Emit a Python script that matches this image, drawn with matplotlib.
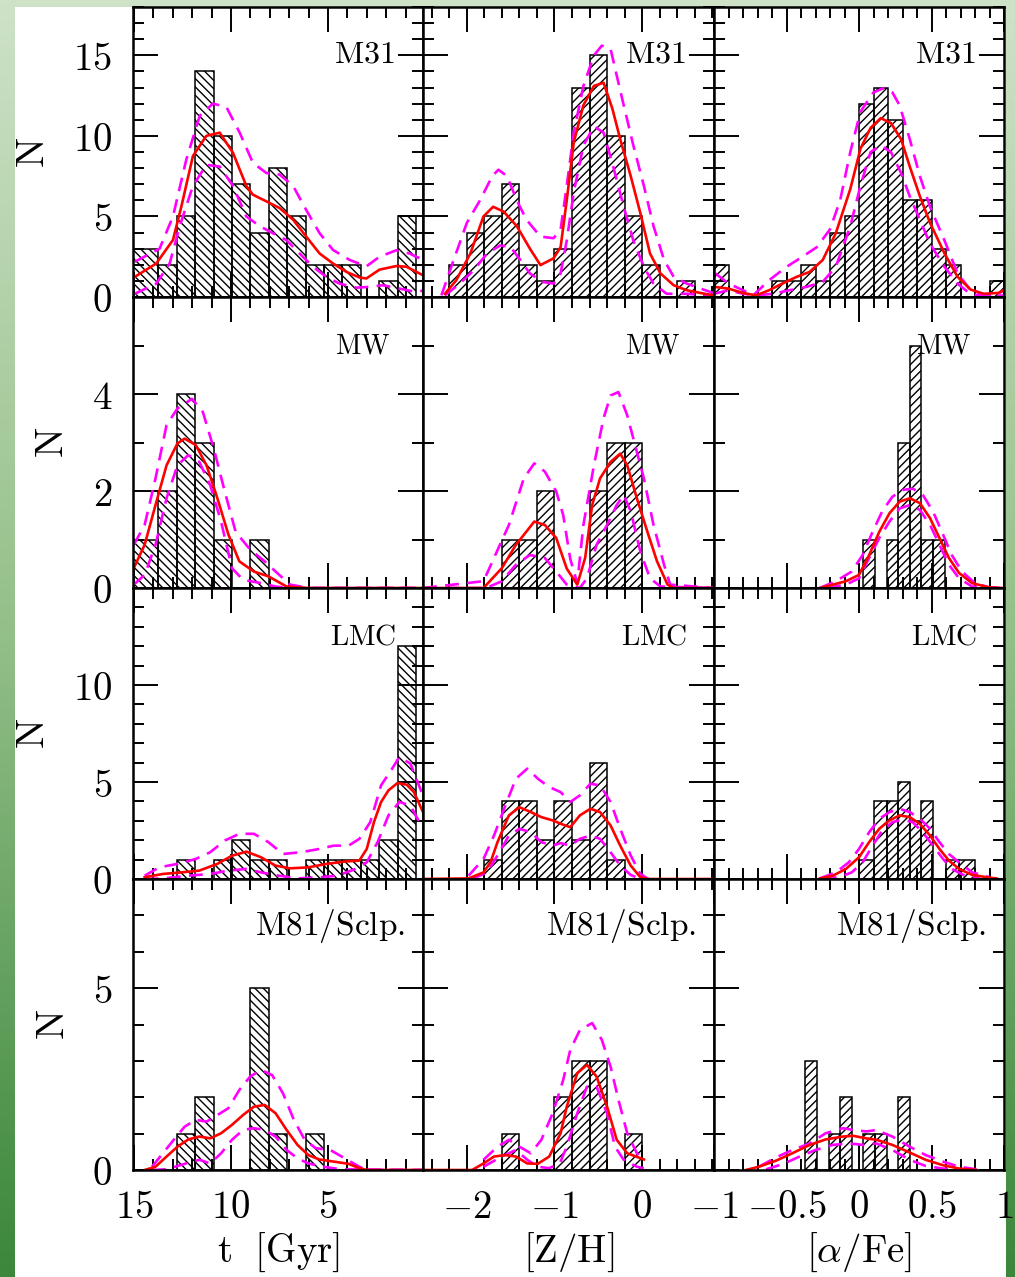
import numpy as np
import matplotlib
matplotlib.use("Agg")
import matplotlib.pyplot as plt
from matplotlib.ticker import MultipleLocator, FuncFormatter
from matplotlib.colors import LinearSegmentedColormap
from matplotlib.patches import Rectangle

plt.rcParams["mathtext.fontset"] = "cm"
plt.rcParams["hatch.linewidth"] = 1.0
plt.rcParams["lines.scale_dashes"] = False

# ---------------- histogram data ----------------
age_edges = [15.2, 13.75, 12.8, 11.85, 10.9, 9.95, 9.0, 8.05, 7.1, 6.15,
             5.2, 4.25, 3.3, 2.35, 1.4, 0.45, -0.5]
m31_age_n = [3, 2, 5, 14, 10, 7, 4, 8, 5, 2, 2, 2, 0, 1, 5, 0]
mw_age_n = [1, 2, 4, 3, 1, 0, 1, 0, 0, 0, 0, 0, 0, 0, 0, 0]
lmc_age_n = [0, 0, 1, 0, 1, 2, 1, 1, 0, 1, 1, 1, 1, 2, 12, 0]
m81_age_n = [0, 0, 1, 2, 0, 0, 5, 1, 0, 1, 0, 0, 0, 0, 0, 0]

zh_edges = [-2.2, -2.0, -1.8, -1.6, -1.4, -1.2, -1.0, -0.8, -0.6, -0.4,
            -0.2, 0.0, 0.2, 0.4, 0.6]
m31_zh_n = [2, 4, 5, 7, 2, 1, 3, 13, 15, 10, 5, 2, 0, 1]
mw_zh_n = [0, 0, 0, 1, 1, 2, 0, 0, 2, 3, 3, 0, 0, 0]
lmc_zh_n = [0, 0, 1, 4, 4, 2, 4, 2, 6, 1, 0, 0, 0, 0]
m81_zh_n = [0, 0, 0, 1, 0, 0, 2, 3, 3, 0, 1, 0, 0, 0]

m31_afe_edges = [-1.0, -0.9, -0.8, -0.7, -0.6, -0.5, -0.4, -0.3, -0.2, -0.1,
                 0.0, 0.1, 0.2, 0.3, 0.4, 0.5, 0.6, 0.7, 0.8, 0.9, 1.0]
m31_afe_n = [2, 0, 0, 0, 1, 1, 2, 1, 4, 5, 12, 13, 11, 6, 6, 3, 2, 0, 0, 1]
afe_edges = [-0.37, -0.29, -0.21, -0.13, -0.05, 0.03, 0.11, 0.19, 0.27,
             0.35, 0.43, 0.51, 0.59, 0.67, 0.75]
mw_afe_n = [0, 0, 0, 0, 0, 1, 0, 1, 3, 5, 1, 1, 0, 0]
m81_afe_n = [3, 0, 1, 2, 0, 1, 1, 0, 2, 0, 0, 0, 0, 0]
lmc_afe_edges = [0.0, 0.105, 0.19, 0.27, 0.35, 0.43, 0.51, 0.6, 0.69, 0.8]
lmc_afe_n = [1, 4, 4, 5, 3, 4, 0, 1, 1]

# ---------------- fitted densities (red) and bounds (magenta) ----------------
# M31, age
m31_age_fit_x = [14.96, 13.85, 12.99, 12.56, 11.96, 11.27, 10.58, 9.9, 9.21, 8.87, 8.18, 7.49,
                 6.8, 6.12, 5.43, 4.74, 4.05, 3.37, 3.02, 2.34, 1.48, 0.96, 0.1]
m31_age_fit_y = [1.25, 2.08, 3.54, 5.6, 8.75, 10.0, 10.2, 8.96, 6.9, 6.35, 5.94, 5.52,
                 4.8, 3.75, 2.7, 2.08, 1.56, 1.21, 1.15, 1.7, 1.92, 1.88, 1.35]
m31_age_hi_x = [14.96, 13.68, 12.99, 12.3, 11.61, 10.93, 10.24, 9.55, 8.87, 8.18, 7.49, 6.8,
                6.12, 5.43, 4.74, 3.88, 3.02, 2.34, 1.48, 0.79, 0.1]
m31_age_hi_y = [2.19, 3.0, 5.0, 8.54, 11.25, 12.0, 11.8, 10.2, 8.33, 7.7, 7.6, 6.9,
                5.4, 3.96, 2.92, 2.3, 1.9, 2.5, 2.9, 2.7, 2.3]
m31_age_lo_x = [14.96, 13.85, 13.16, 12.64, 11.96, 11.27, 10.58, 9.9, 9.21, 8.52, 7.84, 7.15,
                6.46, 5.77, 5.08, 4.4, 3.54, 2.85, 2.17, 1.31, 0.45, 0.1]
m31_age_lo_y = [0.2, 0.83, 2.08, 4.4, 6.9, 8.2, 8.1, 6.9, 5.0, 4.4, 3.96, 3.54,
                2.7, 1.87, 1.25, 0.83, 0.58, 0.63, 0.73, 0.52, 0.31, 0.4]

# M31, [Z/H]
m31_zh_fit_x = [-2.25, -2.12, -1.96, -1.81, -1.7, -1.58, -1.43, -1.28, -1.16, -1.01, -0.93, -0.86,
                -0.78, -0.67, -0.55, -0.44, -0.34, -0.25, -0.13, -0.02, 0.09, 0.21, 0.36, 0.51,
                0.74, 0.84]
m31_zh_fit_y = [0.2, 1.04, 2.7, 5.0, 5.6, 5.3, 4.4, 3.0, 1.98, 2.4, 3.1, 6.0,
                9.6, 11.9, 13.1, 13.3, 11.7, 9.8, 7.5, 5.2, 2.7, 1.46, 0.73, 0.42,
                0.17, 0.1]
m31_zh_hi_x = [-2.29, -2.15, -2.0, -1.85, -1.71, -1.64, -1.54, -1.43, -1.32, -1.16, -1.01, -0.93,
               -0.86, -0.78, -0.67, -0.55, -0.46, -0.36, -0.29, -0.21, -0.1, 0.02, 0.13, 0.25,
               0.36, 0.51, 0.7, 0.84]
m31_zh_hi_y = [0.1, 2.3, 4.6, 6.0, 7.5, 7.9, 7.5, 6.0, 4.8, 3.75, 3.65, 4.2,
               6.9, 10.2, 13.1, 15.0, 15.6, 15.4, 13.75, 11.9, 9.4, 6.9, 4.4, 2.3,
               1.25, 0.83, 0.46, 0.2]
m31_zh_lo_x = [-2.25, -2.08, -1.92, -1.77, -1.62, -1.5, -1.39, -1.28, -1.14, -1.01, -0.93, -0.86,
               -0.78, -0.67, -0.55, -0.44, -0.33, -0.21, -0.1, 0.02, 0.13, 0.28, 0.51, 0.84]
m31_zh_lo_y = [0.1, 0.83, 1.67, 2.7, 3.2, 3.1, 2.3, 1.46, 0.94, 0.83, 1.46, 3.5,
               6.5, 9.4, 10.6, 10.2, 8.1, 5.6, 3.5, 1.87, 0.83, 0.2, 0.2, 0.05]

# M31, [alpha/Fe]
m31_afe_fit_x = [-1.0, -0.9, -0.8, -0.71, -0.62, -0.53, -0.43, -0.34, -0.25, -0.16, -0.06, 0.01,
                 0.08, 0.15, 0.22, 0.29, 0.35, 0.42, 0.49, 0.59, 0.68, 0.77, 0.86, 0.96, 1.0]
m31_afe_fit_y = [0.63, 0.52, 0.25, 0.1, 0.42, 0.83, 1.25, 1.56, 2.3, 3.96, 6.7, 9.2,
                 10.5, 11.1, 10.8, 9.8, 8.1, 6.25, 4.6, 2.7, 1.25, 0.46, 0.2, 0.25, 0.42]
m31_afe_hi_x = [-0.99, -0.9, -0.8, -0.73, -0.62, -0.5, -0.39, -0.29, -0.2, -0.13, -0.06, 0.01,
                0.1, 0.17, 0.23, 0.28, 0.35, 0.42, 0.49, 0.59, 0.68, 0.77, 0.86, 0.96, 1.0]
m31_afe_hi_y = [1.46, 0.83, 0.42, 0.1, 1.04, 1.87, 2.5, 3.1, 4.2, 6.0, 9.0, 11.5,
                12.7, 12.96, 12.7, 11.9, 9.8, 7.5, 5.6, 3.5, 1.46, 0.42, 0.1, 0.2, 0.42]
m31_afe_lo_x = [-1.0, -0.9, -0.8, -0.71, -0.59, -0.48, -0.36, -0.25, -0.16, -0.06, 0.01, 0.08,
                0.15, 0.22, 0.29, 0.35, 0.42, 0.49, 0.59, 0.68, 0.77, 0.91, 1.0]
m31_afe_lo_y = [0.2, 0.42, 0.2, 0.1, 0.2, 0.42, 0.63, 0.94, 1.87, 4.4, 6.9, 9.0,
                9.4, 9.0, 7.7, 6.25, 4.8, 3.3, 1.87, 0.83, 0.17, 0.05, 0.1]

# MW, age
mw_age_fit_x = [15.01, 14.45, 13.89, 13.32, 12.76, 12.39, 11.82, 11.26, 10.7, 10.13, 9.57, 8.82,
                8.07, 7.13, 6.0, 0.1]
mw_age_fit_y = [0.41, 0.89, 1.71, 2.53, 2.98, 3.08, 2.95, 2.53, 1.85, 1.1, 0.55, 0.34,
                0.24, 0.03, 0.0, 0.0]
mw_age_hi_x = [15.01, 14.45, 13.89, 13.32, 12.76, 12.01, 11.45, 10.89, 10.32, 9.76, 9.01, 8.26,
               7.7, 6.95, 6.0, 0.1]
mw_age_hi_y = [0.89, 1.3, 2.26, 3.36, 3.7, 3.9, 3.63, 2.88, 1.99, 1.16, 0.79, 0.55,
               0.34, 0.07, 0.0, 0.0]
mw_age_lo_x = [15.01, 14.45, 13.89, 13.32, 12.76, 12.2, 11.63, 11.07, 10.51, 9.95, 9.38, 8.45,
               7.7, 6.95, 0.1]
mw_age_lo_y = [0.07, 0.27, 0.89, 1.85, 2.53, 2.74, 2.6, 2.12, 1.37, 0.41, 0.17, 0.1,
               0.03, 0.0, 0.0]

# MW, [Z/H]
mw_zh_fit_x = [-2.5, -1.81, -1.6, -1.44, -1.23, -1.11, -0.98, -0.86, -0.74, -0.65, -0.57, -0.48,
               -0.36, -0.25, -0.17, -0.06, 0.06, 0.17, 0.29, 0.36, 0.82]
mw_zh_fit_y = [0.0, 0.0, 0.41, 0.89, 1.37, 1.3, 1.03, 0.4, 0.07, 0.62, 1.71, 2.26,
               2.6, 2.77, 2.53, 1.85, 1.16, 0.55, 0.07, 0.0, 0.0]
mw_zh_hi_x = [-2.5, -1.81, -1.69, -1.52, -1.35, -1.23, -1.11, -0.98, -0.9, -0.82, -0.74, -0.67,
              -0.55, -0.44, -0.36, -0.27, -0.17, -0.1, 0.02, 0.13, 0.25, 0.32, 0.82]
mw_zh_hi_y = [0.0, 0.14, 0.62, 1.3, 2.26, 2.57, 2.4, 1.99, 1.5, 0.6, 0.1, 1.3,
              2.53, 3.5, 3.97, 4.04, 3.56, 3.08, 2.26, 1.3, 0.48, 0.07, 0.0]
mw_zh_lo_x = [-2.5, -1.78, -1.6, -1.44, -1.28, -1.11, -0.98, -0.86, -0.71, -0.63, -0.52, -0.4,
              -0.29, -0.21, -0.13, -0.02, 0.09, 0.21, 0.82]
mw_zh_lo_y = [0.0, 0.0, 0.14, 0.48, 0.68, 0.62, 0.34, 0.07, 0.0, 0.2, 0.89, 1.3,
              1.71, 1.92, 1.58, 0.75, 0.2, 0.03, 0.0]

# MW, [alpha/Fe]
mw_afe_fit_x = [-0.27, -0.18, -0.09, 0.0, 0.07, 0.14, 0.21, 0.28, 0.35, 0.42, 0.49, 0.555,
                0.62, 0.69, 0.78, 0.9, 1.0]
mw_afe_fit_y = [0.0, 0.07, 0.14, 0.27, 0.68, 1.16, 1.54, 1.78, 1.85, 1.75, 1.44, 1.03,
                0.62, 0.31, 0.1, 0.01, 0.0]
mw_afe_hi_x = [-0.27, -0.16, -0.05, 0.025, 0.094, 0.16, 0.23, 0.3, 0.37, 0.44, 0.51, 0.58,
               0.64, 0.71, 0.8, 0.9, 1.0]
mw_afe_hi_y = [0.0, 0.14, 0.34, 0.68, 1.16, 1.58, 1.88, 2.02, 2.05, 1.92, 1.58, 1.1,
               0.68, 0.34, 0.1, 0.01, 0.0]
mw_afe_lo_x = [-0.22, -0.09, 0.0, 0.07, 0.14, 0.21, 0.28, 0.35, 0.42, 0.49, 0.555, 0.62,
               0.69, 0.78, 1.0]
mw_afe_lo_y = [0.0, 0.07, 0.2, 0.62, 1.03, 1.37, 1.64, 1.71, 1.61, 1.3, 0.89, 0.48,
               0.2, 0.03, 0.0]

# LMC, age
lmc_age_fit_x = [14.45, 13.51, 12.57, 11.64, 10.7, 9.95, 9.2, 8.45, 7.7, 6.95, 6.01, 5.07,
                 4.13, 3.38, 3.0, 2.63, 2.26, 1.88, 1.41, 0.94, 0.57, 0.1]
lmc_age_fit_y = [0.09, 0.26, 0.34, 0.43, 0.78, 1.2, 1.41, 1.12, 0.69, 0.55, 0.6, 0.78,
                 0.9, 0.95, 1.55, 2.93, 3.97, 4.57, 4.95, 4.86, 4.48, 3.45]
lmc_age_hi_x = [14.45, 13.7, 12.76, 11.82, 11.07, 10.32, 9.57, 8.82, 8.07, 7.32, 6.38, 5.45,
                4.7, 3.94, 3.38, 2.82, 2.26, 1.69, 1.32, 0.75, 0.38, 0.1]
lmc_age_hi_y = [0.17, 0.6, 0.78, 1.03, 1.38, 1.98, 2.33, 2.33, 1.9, 1.29, 1.38, 1.55,
                1.72, 1.72, 2.07, 2.93, 4.83, 5.69, 6.29, 5.95, 5.0, 4.3]
lmc_age_lo_x = [14.45, 13.5, 12.2, 11.07, 10.14, 9.2, 8.45, 7.51, 6.57, 5.45, 4.51, 3.57,
                3.0, 2.44, 1.88, 1.32, 0.75, 0.38, 0.1]
lmc_age_lo_y = [0.0, 0.03, 0.17, 0.26, 0.43, 0.52, 0.34, 0.17, 0.03, 0.09, 0.17, 0.52,
                0.86, 1.9, 3.28, 3.97, 3.79, 3.1, 2.59]

# LMC, [Z/H]
lmc_zh_fit_x = [-2.5, -1.98, -1.81, -1.73, -1.65, -1.52, -1.4, -1.27, -1.15, -1.02, -0.93, -0.82,
                -0.71, -0.59, -0.48, -0.36, -0.25, -0.13, -0.02, 0.06, 0.82]
lmc_zh_fit_y = [0.0, 0.03, 0.34, 0.86, 1.9, 3.28, 3.7, 3.45, 3.19, 3.02, 2.85, 2.67,
                3.28, 3.62, 3.45, 2.76, 1.72, 0.69, 0.09, 0.0, 0.0]
lmc_zh_hi_x = [-1.98, -1.81, -1.69, -1.56, -1.44, -1.31, -1.19, -1.06, -0.93, -0.82, -0.71, -0.59,
               -0.48, -0.36, -0.25, -0.13, -0.02, 0.07]
lmc_zh_hi_y = [0.17, 1.03, 2.24, 3.79, 5.17, 5.69, 5.17, 4.74, 4.48, 3.97, 4.31, 4.91,
               4.83, 3.97, 2.59, 1.21, 0.26, 0.0]
lmc_zh_lo_x = [-1.94, -1.77, -1.65, -1.52, -1.4, -1.27, -1.15, -1.02, -0.93, -0.82, -0.71, -0.59,
               -0.48, -0.36, -0.25, -0.13, -0.02]
lmc_zh_lo_y = [0.0, 0.34, 1.21, 2.24, 2.59, 2.41, 1.9, 1.72, 1.85, 1.72, 2.07, 2.24,
               2.07, 1.38, 0.69, 0.21, 0.0]

# LMC, [alpha/Fe]
lmc_afe_fit_x = [-0.27, -0.18, -0.09, 0.0, 0.07, 0.14, 0.21, 0.28, 0.35, 0.42, 0.49, 0.555,
                 0.62, 0.69, 0.78, 0.9, 0.95]
lmc_afe_fit_y = [0.03, 0.17, 0.52, 1.12, 1.9, 2.59, 3.02, 3.28, 3.19, 2.84, 2.24, 1.55,
                 0.95, 0.52, 0.21, 0.07, 0.03]
lmc_afe_hi_x = [-0.27, -0.16, -0.07, 0.0, 0.07, 0.14, 0.21, 0.28, 0.35, 0.42, 0.49, 0.555,
                0.62, 0.69, 0.78, 0.9]
lmc_afe_hi_y = [0.03, 0.34, 0.86, 1.55, 2.41, 3.1, 3.45, 3.62, 3.45, 3.1, 2.59, 1.9,
                1.29, 0.86, 0.34, 0.1]
lmc_afe_lo_x = [-0.25, -0.14, -0.05, 0.025, 0.094, 0.16, 0.23, 0.3, 0.37, 0.44, 0.51, 0.58,
                0.64, 0.73, 0.83]
lmc_afe_lo_y = [0.0, 0.09, 0.34, 0.86, 1.72, 2.5, 2.93, 3.07, 2.93, 2.41, 1.72, 1.03,
                0.52, 0.17, 0.03]

# M81/Sculptor, age
m81_age_fit_x = [14.45, 13.89, 13.32, 12.76, 12.2, 11.63, 11.07, 10.51, 9.95, 9.38, 8.82, 8.26,
                 7.7, 7.13, 6.57, 6.01, 5.45, 4.7, 3.94, 3.38, 3.0, 0.1]
m81_age_fit_y = [0.0, 0.09, 0.37, 0.64, 0.84, 0.92, 0.87, 1.01, 1.24, 1.51, 1.74, 1.79,
                 1.56, 1.1, 0.69, 0.41, 0.29, 0.23, 0.17, 0.05, 0.0, 0.0]
m81_age_hi_x = [14.07, 13.51, 12.95, 12.39, 11.82, 11.26, 10.7, 10.13, 9.57, 9.01, 8.45, 7.88,
                7.32, 6.76, 6.2, 5.63, 4.88, 4.13, 3.38, 3.0, 0.1]
m81_age_hi_y = [0.09, 0.46, 0.83, 1.19, 1.38, 1.33, 1.51, 1.7, 2.2, 2.57, 2.75, 2.61,
                2.11, 1.38, 0.83, 0.6, 0.55, 0.32, 0.09, 0.0, 0.0]
m81_age_lo_x = [14.07, 13.32, 12.76, 12.2, 11.63, 11.07, 10.51, 9.95, 9.38, 8.82, 8.26, 7.7,
                7.13, 6.57, 6.01, 5.26, 4.32, 0.1]
m81_age_lo_y = [0.0, 0.02, 0.11, 0.2, 0.28, 0.18, 0.46, 0.83, 1.1, 1.15, 1.1, 0.92,
                0.55, 0.32, 0.18, 0.09, 0.02, 0.0]

# M81/Sculptor, [Z/H]
m81_zh_fit_x = [-2.5, -1.94, -1.81, -1.69, -1.56, -1.44, -1.31, -1.19, -1.06, -0.93, -0.86, -0.74,
                -0.63, -0.52, -0.4, -0.29, -0.17, 0.02]
m81_zh_fit_y = [0.0, 0.0, 0.18, 0.37, 0.41, 0.37, 0.18, 0.17, 0.37, 1.01, 1.74, 2.66,
                2.89, 2.57, 1.74, 0.83, 0.46, 0.29]
m81_zh_hi_x = [-1.81, -1.65, -1.52, -1.4, -1.27, -1.15, -1.02, -0.9, -0.82, -0.71, -0.57, -0.46,
               -0.36, -0.27, -0.17, -0.06, 0.02]
m81_zh_hi_y = [0.28, 0.64, 0.83, 0.64, 0.46, 0.83, 1.56, 2.48, 3.3, 3.85, 4.04, 3.58,
               2.84, 1.93, 1.01, 0.46, 0.28]
m81_zh_lo_x = [-1.81, -1.6, -1.44, -1.31, -1.19, -1.06, -0.94, -0.86, -0.74, -0.63, -0.52, -0.4,
               -0.31, -0.21, -0.06, 0.02]
m81_zh_lo_y = [0.09, 0.37, 0.55, 0.28, 0.09, 0.05, 0.18, 0.64, 1.56, 2.29, 2.29, 1.56,
               0.64, 0.28, 0.09, 0.05]

# M81/Sculptor, [alpha/Fe]
m81_afe_fit_x = [-0.78, -0.69, -0.57, -0.46, -0.34, -0.23, -0.11, -0.04, 0.05, 0.12, 0.23, 0.35,
                 0.46, 0.58, 0.69, 0.81]
m81_afe_fit_y = [0.0, 0.09, 0.26, 0.46, 0.69, 0.84, 0.92, 0.94, 0.87, 0.83, 0.69, 0.48,
                 0.28, 0.13, 0.04, 0.0]
m81_afe_hi_x = [-0.69, -0.57, -0.46, -0.34, -0.23, -0.11, -0.04, 0.05, 0.12, 0.23, 0.35, 0.46,
                0.58, 0.69, 0.81]
m81_afe_hi_y = [0.09, 0.35, 0.55, 0.73, 1.01, 1.15, 1.1, 1.06, 1.1, 0.92, 0.64, 0.41,
                0.23, 0.09, 0.02]
m81_afe_lo_x = [-0.64, -0.52, -0.41, -0.3, -0.18, -0.07, 0.03, 0.12, 0.23, 0.35, 0.46, 0.58,
                0.69]
m81_afe_lo_y = [0.02, 0.17, 0.37, 0.55, 0.69, 0.73, 0.69, 0.73, 0.55, 0.28, 0.11, 0.04,
                0.0]

# ---------------- panel layout ----------------
galaxies = [r"$\mathrm{M31}$", r"$\mathrm{MW}$", r"$\mathrm{LMC}$", r"$\mathrm{M81/Sclp.}$"]
label_size = [23, 20, 21, 24]
label_inset = [28, 33, 27, 18]   # px from right edge of panel
xlabels = [r"$\mathrm{t\ \ [Gyr]}$", r"$\mathrm{[Z/H]}$", r"$[\alpha/\mathrm{Fe}]$"]

panels = [
    [(age_edges, m31_age_n, m31_age_fit_x, m31_age_fit_y, m31_age_hi_x, m31_age_hi_y, m31_age_lo_x, m31_age_lo_y),
     (zh_edges, m31_zh_n, m31_zh_fit_x, m31_zh_fit_y, m31_zh_hi_x, m31_zh_hi_y, m31_zh_lo_x, m31_zh_lo_y),
     (m31_afe_edges, m31_afe_n, m31_afe_fit_x, m31_afe_fit_y, m31_afe_hi_x, m31_afe_hi_y, m31_afe_lo_x, m31_afe_lo_y)],
    [(age_edges, mw_age_n, mw_age_fit_x, mw_age_fit_y, mw_age_hi_x, mw_age_hi_y, mw_age_lo_x, mw_age_lo_y),
     (zh_edges, mw_zh_n, mw_zh_fit_x, mw_zh_fit_y, mw_zh_hi_x, mw_zh_hi_y, mw_zh_lo_x, mw_zh_lo_y),
     (afe_edges, mw_afe_n, mw_afe_fit_x, mw_afe_fit_y, mw_afe_hi_x, mw_afe_hi_y, mw_afe_lo_x, mw_afe_lo_y)],
    [(age_edges, lmc_age_n, lmc_age_fit_x, lmc_age_fit_y, lmc_age_hi_x, lmc_age_hi_y, lmc_age_lo_x, lmc_age_lo_y),
     (zh_edges, lmc_zh_n, lmc_zh_fit_x, lmc_zh_fit_y, lmc_zh_hi_x, lmc_zh_hi_y, lmc_zh_lo_x, lmc_zh_lo_y),
     (lmc_afe_edges, lmc_afe_n, lmc_afe_fit_x, lmc_afe_fit_y, lmc_afe_hi_x, lmc_afe_hi_y, lmc_afe_lo_x, lmc_afe_lo_y)],
    [(age_edges, m81_age_n, m81_age_fit_x, m81_age_fit_y, m81_age_hi_x, m81_age_hi_y, m81_age_lo_x, m81_age_lo_y),
     (zh_edges, m81_zh_n, m81_zh_fit_x, m81_zh_fit_y, m81_zh_hi_x, m81_zh_hi_y, m81_zh_lo_x, m81_zh_lo_y),
     (afe_edges, m81_afe_n, m81_afe_fit_x, m81_afe_fit_y, m81_afe_hi_x, m81_afe_hi_y, m81_afe_lo_x, m81_afe_lo_y)],
]

xlims = [(15.05, 0.1), (-2.5, 0.82), (-1.0, 1.0)]
x_major = [5, 1, 0.5]
x_minor = [1, 0.2, 0.1]
hatches = ["\\\\\\\\", "////", "////"]
ylims = [18, 6, 15, 8]
y_major = [5, 2, 5, 5]

W, H = 1015, 1277
col_px = [133, 423, 714, 1004]
row_px = [7, 297, 588, 879, 1170]


def num_fmt(v, pos):
    if abs(v) < 1e-9:
        v = 0.0
    return "$%g$" % v


def y_fmt(top):
    def f(v, pos):
        if v > top - 1e-6:
            return ""
        return num_fmt(v, pos)
    return f


fig = plt.figure(figsize=(W / 100, H / 100), dpi=100)

# green slide background with white panel
bg = fig.add_axes([0, 0, 1, 1], zorder=-10)
bg.axis("off")
green = LinearSegmentedColormap.from_list("g", ["#cee2c7", "#93bf88", "#3b873b"])
bg.imshow(np.linspace(0, 1, 256)[:, None], aspect="auto", cmap=green, extent=[0, 1, 0, 1])
bg.add_patch(Rectangle((15 / W, 0), (1006 - 15) / W, 1 - 7 / H, transform=bg.transAxes,
                       facecolor="white", edgecolor="none"))
bg.set_xlim(0, 1)
bg.set_ylim(0, 1)

for r in range(4):
    for c in range(3):
        left = col_px[c] / W
        width = (col_px[c + 1] - col_px[c]) / W
        bottom = 1 - row_px[r + 1] / H
        height = (row_px[r + 1] - row_px[r]) / H
        ax = fig.add_axes([left, bottom, width, height])
        edges, counts, fx, fy, hx, hy, lx, ly = panels[r][c]

        e = np.asarray(edges)
        ax.bar(e[:-1], counts, width=np.diff(e), align="edge", fill=False,
               hatch=hatches[c], edgecolor="black", linewidth=1.1, zorder=2)
        ax.plot(hx, hy, color="#ff00ff", lw=1.9, dashes=(10, 6), zorder=3)
        ax.plot(lx, ly, color="#ff00ff", lw=1.9, dashes=(10, 6), zorder=3)
        ax.plot(fx, fy, color="#ff0000", lw=1.9, zorder=4)

        ax.set_xlim(*xlims[c])
        ax.set_ylim(0, ylims[r])
        ax.xaxis.set_major_locator(MultipleLocator(x_major[c]))
        ax.xaxis.set_minor_locator(MultipleLocator(x_minor[c]))
        ax.yaxis.set_major_locator(MultipleLocator(y_major[r]))
        ax.yaxis.set_minor_locator(MultipleLocator(1))
        ax.xaxis.set_major_formatter(FuncFormatter(num_fmt))
        ax.yaxis.set_major_formatter(FuncFormatter(y_fmt(ylims[r])))

        ax.tick_params(which="both", direction="in", top=True, right=True, width=1.4,
                       labelsize=28, labelleft=(c == 0), labelbottom=(r == 3))
        ax.tick_params(which="major", length=18)
        ax.tick_params(which="minor", length=8)
        ax.tick_params(axis="y", pad=15)
        ax.tick_params(axis="x", pad=13)
        for s in ax.spines.values():
            s.set_linewidth(1.8)
            s.set_zorder(5)

        ax.text(1 - label_inset[r] / 290, 1 - 56 / 291, galaxies[r], transform=ax.transAxes,
                ha="right", va="baseline", fontsize=label_size[r], zorder=6)

        if c == 0:
            ax.set_ylabel(r"$\mathrm{N}$", fontsize=29, labelpad=14)
        if r == 3:
            ax.set_xlabel(xlabels[c], fontsize=28, labelpad=3)

fig.savefig("out.png", dpi=100)
